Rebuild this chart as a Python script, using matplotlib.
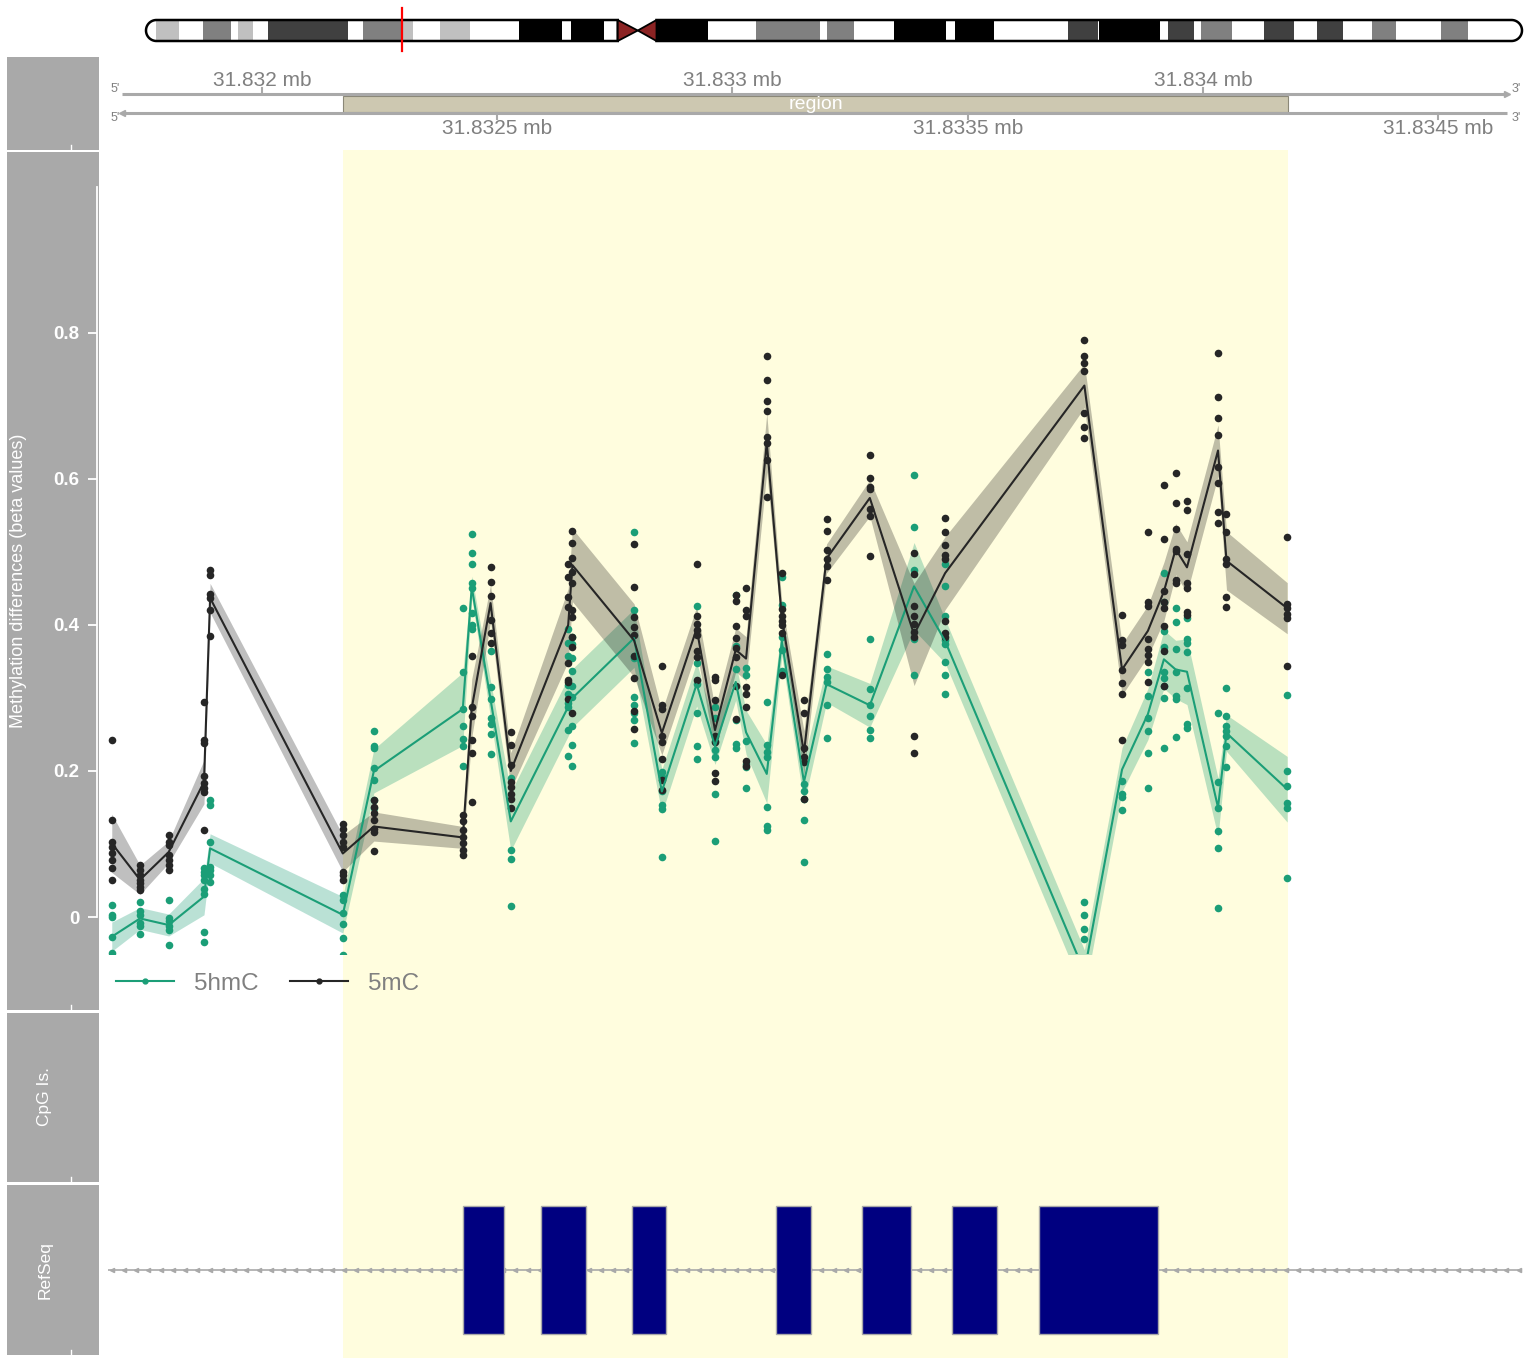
import numpy as np
import matplotlib
matplotlib.use('Agg')
import matplotlib.pyplot as plt
from matplotlib.patches import Rectangle, Polygon, PathPatch
from matplotlib.path import Path
from matplotlib.lines import Line2D

plt.rcParams['font.family'] = ['Liberation Sans', 'DejaVu Sans']

# ---- chr6 ideogram (Mb) ----
chrom_len = 171.1
locus_mb = 31.8332
band_start = [0, 1.19, 4.14, 7.03, 10.52, 11.47, 13.31, 15.17, 25.07, 27.01,
              31.71, 33.23, 36.56, 40.34, 46.33, 51.72, 52.82, 56.99, 58.66,
              61.15, 63.48, 69.87, 75.85, 83.75, 84.74, 88.00, 93.01, 99.44, 100.56,
              105.42, 114.64, 118.32, 118.50, 126.09, 127.09, 130.27, 131.17, 135.07, 138.98,
              142.72, 145.62, 148.85, 152.49, 155.44, 161.03, 164.39]
band_end = band_start[1:] + [chrom_len]
band_stain = ['gneg', 'gpos25', 'gneg', 'gpos50', 'gneg', 'gpos25', 'gneg', 'gpos75', 'gneg', 'gpos50',
              'gpos25', 'gneg', 'gpos25', 'gneg', 'gpos100', 'gneg', 'gpos100', 'gneg', 'acen',
              'acen', 'gpos100', 'gneg', 'gpos50', 'gneg', 'gpos50', 'gneg', 'gpos100', 'gneg', 'gpos100',
              'gneg', 'gpos75', 'gneg', 'gpos100', 'gneg', 'gpos75', 'gneg', 'gpos50', 'gneg', 'gpos75',
              'gneg', 'gpos75', 'gneg', 'gpos50', 'gneg', 'gpos50', 'gneg']
stain_col = {'gneg': 'white', 'gpos25': '#C0C0C0', 'gpos50': '#808080',
             'gpos75': '#404040', 'gpos100': 'black', 'acen': '#8B2323'}

# ---- plotted window / highlighted region (bp) ----
view = (31831673, 31834678)
region = (31832172, 31834181)
major_ticks = [31832000, 31833000, 31834000]
minor_ticks = [31832500, 31833500, 31834500]

# ---- CpG sites ----
cpg_pos = [31831681, 31831741, 31831802, 31831877, 31831890, 31832172, 31832238,
           31832427, 31832446, 31832486, 31832529, 31832651, 31832660, 31832791,
           31832850, 31832924, 31832963, 31833007, 31833029, 31833073, 31833105,
           31833152, 31833200, 31833292, 31833386, 31833452, 31833748, 31833828,
           31833883, 31833917, 31833942, 31833966, 31834032, 31834050, 31834179]

mc_mean = [0.101, 0.051, 0.089, 0.185, 0.437, 0.087, 0.124, 0.109, 0.286, 0.430,
           0.200, 0.400, 0.482, 0.379, 0.252, 0.395, 0.256, 0.366, 0.354, 0.650,
           0.410, 0.225, 0.491, 0.574, 0.387, 0.471, 0.728, 0.339, 0.392, 0.446,
           0.504, 0.479, 0.639, 0.488, 0.423]
mc_ci = [0.04, 0.02, 0.015, 0.03, 0.02, 0.025, 0.02, 0.015, 0.04, 0.025,
         0.025, 0.05, 0.05, 0.05, 0.03, 0.03, 0.03, 0.03, 0.03, 0.04,
         0.02, 0.03, 0.02, 0.025, 0.07, 0.05, 0.03, 0.035, 0.035, 0.04,
         0.035, 0.035, 0.035, 0.04, 0.035]

hmc_mean = [-0.027, -0.002, -0.011, 0.028, 0.094, 0.003, 0.200, 0.285, 0.452, 0.298,
            0.131, 0.288, 0.300, 0.382, 0.172, 0.319, 0.234, 0.322, 0.253, 0.196,
            0.378, 0.185, 0.319, 0.290, 0.453, 0.378, -0.075, 0.202, 0.278, 0.353,
            0.339, 0.336, 0.150, 0.252, 0.175]
hmc_ci = [0.02, 0.015, 0.015, 0.025, 0.02, 0.025, 0.03, 0.05, 0.015, 0.025,
          0.04, 0.04, 0.04, 0.04, 0.03, 0.03, 0.025, 0.025, 0.03, 0.04,
          0.02, 0.03, 0.025, 0.03, 0.06, 0.03, 0.03, 0.03, 0.035, 0.04,
          0.04, 0.045, 0.04, 0.025, 0.045]

mc_points = [
    [0.242, 0.133, 0.103, 0.096, 0.088, 0.078, 0.067, 0.051],
    [0.071, 0.064, 0.058, 0.051, 0.047, 0.041, 0.037],
    [0.112, 0.103, 0.099, 0.085, 0.078, 0.071, 0.064],
    [0.294, 0.243, 0.239, 0.193, 0.184, 0.177, 0.171, 0.119],
    [0.476, 0.469, 0.442, 0.437, 0.421, 0.385],
    [0.128, 0.121, 0.112, 0.103, 0.096, 0.062, 0.058, 0.051],
    [0.160, 0.151, 0.142, 0.133, 0.121, 0.117, 0.090],
    [0.140, 0.131, 0.119, 0.110, 0.101, 0.092, 0.085],
    [0.358, 0.287, 0.275, 0.243, 0.225, 0.157],
    [0.479, 0.459, 0.440, 0.407, 0.389, 0.375],
    [0.254, 0.236, 0.208, 0.185, 0.178, 0.169, 0.162, 0.149],
    [0.484, 0.466, 0.439, 0.425, 0.348, 0.325, 0.322, 0.298],
    [0.529, 0.512, 0.492, 0.473, 0.457, 0.420, 0.411, 0.384, 0.370, 0.279],
    [0.511, 0.452, 0.411, 0.397, 0.386, 0.358, 0.327, 0.282, 0.258],
    [0.344, 0.291, 0.285, 0.248, 0.240, 0.217, 0.187, 0.174],
    [0.484, 0.413, 0.401, 0.393, 0.386, 0.364, 0.356, 0.325],
    [0.329, 0.324, 0.297, 0.248, 0.240, 0.197, 0.186],
    [0.441, 0.433, 0.399, 0.382, 0.369, 0.356, 0.317, 0.271],
    [0.451, 0.421, 0.412, 0.315, 0.305, 0.288, 0.214, 0.207],
    [0.769, 0.736, 0.707, 0.693, 0.657, 0.649, 0.626, 0.576],
    [0.471, 0.422, 0.412, 0.406, 0.400, 0.389, 0.332],
    [0.297, 0.279, 0.231, 0.219, 0.212, 0.162],
    [0.545, 0.529, 0.503, 0.491, 0.481, 0.462],
    [0.633, 0.601, 0.589, 0.586, 0.559, 0.549, 0.495],
    [0.499, 0.470, 0.426, 0.412, 0.401, 0.390, 0.384, 0.248, 0.224],
    [0.546, 0.527, 0.509, 0.496, 0.490, 0.405, 0.389, 0.384],
    [0.790, 0.768, 0.759, 0.748, 0.690, 0.671, 0.656],
    [0.414, 0.380, 0.373, 0.339, 0.320, 0.306, 0.242],
    [0.528, 0.432, 0.426, 0.381, 0.367, 0.359, 0.350, 0.322],
    [0.592, 0.518, 0.447, 0.432, 0.423, 0.399, 0.364, 0.317],
    [0.608, 0.567, 0.532, 0.504, 0.501, 0.462, 0.458],
    [0.570, 0.558, 0.497, 0.457, 0.450, 0.418, 0.414],
    [0.772, 0.712, 0.683, 0.660, 0.616, 0.595, 0.555, 0.540],
    [0.552, 0.528, 0.490, 0.484, 0.438, 0.425],
    [0.521, 0.429, 0.423, 0.415, 0.410, 0.344],
]

hmc_points = [
    [0.016, 0.003, 0.000, -0.027, -0.049],
    [0.020, 0.008, 0.003, -0.008, -0.012, -0.023],
    [0.023, -0.002, -0.006, -0.013, -0.018, -0.039],
    [0.067, 0.062, 0.058, 0.051, 0.039, 0.032, -0.020, -0.034],
    [0.160, 0.153, 0.103, 0.069, 0.064, 0.058, 0.048],
    [0.030, 0.023, 0.005, -0.009, -0.029, -0.052],
    [0.255, 0.234, 0.232, 0.204, 0.188, 0.160, 0.149],
    [0.423, 0.336, 0.285, 0.261, 0.244, 0.234, 0.207],
    [0.524, 0.498, 0.484, 0.457, 0.451, 0.416, 0.400, 0.395],
    [0.365, 0.315, 0.299, 0.273, 0.264, 0.251, 0.223],
    [0.190, 0.092, 0.080, 0.015],
    [0.395, 0.375, 0.357, 0.318, 0.306, 0.293, 0.288, 0.256, 0.220],
    [0.384, 0.374, 0.355, 0.337, 0.316, 0.302, 0.261, 0.236, 0.207],
    [0.527, 0.420, 0.357, 0.355, 0.302, 0.291, 0.280, 0.270, 0.239],
    [0.199, 0.192, 0.172, 0.153, 0.148, 0.082],
    [0.426, 0.348, 0.319, 0.279, 0.234, 0.217],
    [0.288, 0.273, 0.241, 0.229, 0.219, 0.168, 0.104],
    [0.441, 0.371, 0.340, 0.270, 0.237, 0.231],
    [0.341, 0.332, 0.241, 0.209, 0.206, 0.177],
    [0.294, 0.236, 0.226, 0.219, 0.151, 0.124, 0.119],
    [0.466, 0.427, 0.383, 0.366, 0.337],
    [0.182, 0.173, 0.162, 0.133, 0.076],
    [0.360, 0.340, 0.329, 0.322, 0.291, 0.245],
    [0.381, 0.312, 0.290, 0.275, 0.256, 0.245],
    [0.606, 0.534, 0.475, 0.381, 0.331],
    [0.483, 0.454, 0.412, 0.380, 0.374, 0.349, 0.331, 0.306],
    [0.020, 0.003, -0.016, -0.030],
    [0.186, 0.168, 0.164, 0.146],
    [0.335, 0.303, 0.272, 0.255, 0.224, 0.177],
    [0.471, 0.432, 0.392, 0.370, 0.336, 0.328, 0.316, 0.300, 0.231],
    [0.423, 0.404, 0.367, 0.336, 0.303, 0.298, 0.246],
    [0.410, 0.381, 0.376, 0.363, 0.314, 0.264, 0.259],
    [0.279, 0.185, 0.150, 0.118, 0.094, 0.013],
    [0.314, 0.276, 0.262, 0.255, 0.248, 0.234, 0.205],
    [0.304, 0.200, 0.180, 0.156, 0.149, 0.053],
]

# ---- RefSeq exons (bp) ----
exon_start = [31832427, 31832593, 31832786, 31833092, 31833275, 31833467, 31833651]
exon_end = [31832514, 31832689, 31832859, 31833167, 31833379, 31833562, 31833904]

GREEN = '#1B9E77'
DARK = '#262626'
GREY = '#A9A9A9'
TXT = '#808080'

W, H = 1524, 1362
X0, X1 = 108, 1522


def frac(x0, y0, x1, y1):
    return [x0 / W, 1 - y1 / H, (x1 - x0) / W, (y1 - y0) / H]


def to_bp(px):
    return view[0] + (px - X0) / (X1 - X0) * (view[1] - view[0])


fig = plt.figure(figsize=(W / 100, H / 100), dpi=100)

# title panels on the left
frame = fig.add_axes([0, 0, 1, 1], zorder=0)
frame.set_xlim(0, W)
frame.set_ylim(H, 0)
frame.axis('off')
for y0, y1 in [(57, 150), (152, 1010), (1013, 1182), (1185, 1355)]:
    frame.add_patch(Rectangle((7, y0), 92, y1 - y0, facecolor=GREY, lw=0))
    frame.plot([71, 71], [y1 - 5, y1], color='white', lw=1)
frame.text(19, 581, 'Methylation differences (beta values)', rotation=90,
           color='white', fontsize=13, ha='center', va='center')
frame.text(45, 1097, 'CpG Is.', rotation=90, color='white', fontsize=12.5,
           ha='center', va='center')
frame.text(45, 1270, 'RefSeq', rotation=90, color='white', fontsize=12.5,
           ha='center', va='center')

# highlighted region behind the lower tracks
bg = fig.add_axes(frac(X0, 150, X1, 1358), zorder=1)
bg.set_xlim(view)
bg.set_ylim(0, 1)
bg.axis('off')
bg.axvspan(region[0], region[1], color='#FFFDDE', lw=0)

# ---- ideogram ----
ideo = fig.add_axes(frac(140, 5, 1524, 55), zorder=2)
mb_per_px = chrom_len / (1522 - 146)
ideo.set_xlim(-6 * mb_per_px, chrom_len + 2 * mb_per_px)
ideo.set_ylim(55, 5)
ideo.axis('off')
top, bot = 20, 41
cy, ry = (top + bot) / 2, (bot - top) / 2
rx = ry * mb_per_px
acen = [i for i, s in enumerate(band_stain) if s == 'acen']
cen_l, cen_m, cen_r = band_start[acen[0]], band_end[acen[0]], band_end[acen[1]]


def arm_path(xa, xb, round_left):
    t = np.linspace(np.pi / 2, 3 * np.pi / 2, 40)
    if round_left:
        verts = [(xb, top), (xa + rx, top)] + \
                [(xa + rx + rx * np.cos(a), cy - ry * np.sin(a)) for a in t] + \
                [(xa + rx, bot), (xb, bot), (xb, top)]
    else:
        verts = [(xa, top), (xb - rx, top)] + \
                [(xb - rx - rx * np.cos(a), cy - ry * np.sin(a)) for a in t] + \
                [(xb - rx, bot), (xa, bot), (xa, top)]
    return Path(verts, closed=True)


for path in [arm_path(0, cen_l, True), arm_path(cen_r, chrom_len, False)]:
    clip = PathPatch(path, facecolor='none', edgecolor='none')
    ideo.add_patch(clip)
    for s, e, st in zip(band_start, band_end, band_stain):
        if st == 'acen':
            continue
        r = Rectangle((s, top), e - s, bot - top, facecolor=stain_col[st], lw=0)
        ideo.add_patch(r)
        r.set_clip_path(clip)
    ideo.add_patch(PathPatch(path, facecolor='none', edgecolor='black', lw=1.8))
ideo.add_patch(Polygon([(cen_l, top), (cen_m, cy), (cen_l, bot)], closed=True,
                       facecolor=stain_col['acen'], edgecolor='black', lw=1.3))
ideo.add_patch(Polygon([(cen_r, top), (cen_m, cy), (cen_r, bot)], closed=True,
                       facecolor=stain_col['acen'], edgecolor='black', lw=1.3))
ideo.plot([locus_mb, locus_mb], [8, 51], color='red', lw=1.6)

# ---- genome axis ----
gax = fig.add_axes(frac(X0, 57, X1, 150), zorder=2)
gax.set_xlim(view)
gax.set_ylim(150, 57)
gax.axis('off')
xa, xb = to_bp(122), to_bp(1507)
gax.add_patch(Rectangle((region[0], 95.5), region[1] - region[0], 16.5,
                        facecolor='#CDC8B1', edgecolor='#8B8878', lw=0.8))
gax.text((region[0] + region[1]) / 2, 104.5, 'region', color='white',
         fontsize=14, ha='center', va='center')
gax.plot([xa, xb], [94, 94], color=GREY, lw=2.2, solid_capstyle='butt')
gax.plot([xa, xb], [113, 113], color=GREY, lw=2.2, solid_capstyle='butt')
gax.plot([xb], [94], marker='>', ms=4, color=GREY, mec=GREY)
gax.plot([xa], [113], marker='<', ms=4, color=GREY, mec=GREY)
for t in major_ticks:
    gax.plot([t, t], [88, 94], color=GREY, lw=1.5)
    gax.text(t, 81, ('%.4f' % (t / 1e6)).rstrip('0') + ' mb', color=TXT,
             fontsize=15, ha='center', va='center')
for t in minor_ticks:
    gax.plot([t, t], [113, 119], color=GREY, lw=1.5)
    gax.text(t, 128.5, ('%.4f' % (t / 1e6)).rstrip('0') + ' mb', color=TXT,
             fontsize=15, ha='center', va='center')
for y in (89, 118):
    gax.text(to_bp(115), y, "5'", color=TXT, fontsize=9, ha='center', va='center')
    gax.text(to_bp(1516), y, "3'", color=TXT, fontsize=9, ha='center', va='center')

# ---- methylation data track ----
ax = fig.add_axes(frac(X0, 150.5, X1, 953.5), zorder=3)
ax.patch.set_alpha(0)
ax.set_xlim(view)
ax.set_ylim(-0.05, 1.05)
for s in ['top', 'right', 'bottom']:
    ax.spines[s].set_visible(False)
ax.spines['left'].set_position(('outward', 8))
ax.spines['left'].set_bounds(0, 1)
ax.spines['left'].set_color('white')
ax.spines['left'].set_linewidth(1.3)
ax.set_xticks([])
ax.set_yticks([0, 0.2, 0.4, 0.6, 0.8])
ax.set_yticklabels(['0', '0.2', '0.4', '0.6', '0.8'], fontweight='bold', fontsize=13.5)
ax.tick_params(axis='y', colors='white', length=6.5, width=1.3, pad=6)

pos = np.array(cpg_pos)
hm, hc = np.array(hmc_mean), np.array(hmc_ci)
mm, mc = np.array(mc_mean), np.array(mc_ci)
ax.fill_between(pos, hm - hc, hm + hc, color=GREEN, alpha=0.3, lw=0)
ax.fill_between(pos, mm - mc, mm + mc, color='black', alpha=0.25, lw=0)
for p, vals in zip(cpg_pos, hmc_points):
    ax.scatter([p] * len(vals), vals, s=30, color=GREEN, lw=0, zorder=3)
for p, vals in zip(cpg_pos, mc_points):
    ax.scatter([p] * len(vals), vals, s=30, color=DARK, lw=0, zorder=3)
ax.plot(pos, hm, color=GREEN, lw=1.5, zorder=4)
ax.plot(pos, mm, color=DARK, lw=1.5, zorder=4)

handles = [Line2D([], [], color=GREEN, lw=1.5, marker='o', ms=3.5),
           Line2D([], [], color=DARK, lw=1.5, marker='o', ms=3.5)]
fig.legend(handles, ['5hmC', '5mC'], loc='center left',
           bbox_to_anchor=(116 / W, 1 - 984 / H), ncol=2, frameon=False,
           fontsize=17.5, labelcolor=TXT, handlelength=2.4, handletextpad=0.8,
           columnspacing=1.3, borderaxespad=0, borderpad=0)

# ---- CpG island track (empty in this window) ----
cax = fig.add_axes(frac(X0, 1013, X1, 1182), zorder=2)
cax.set_xlim(view)
cax.axis('off')

# ---- RefSeq gene model ----
rax = fig.add_axes(frac(X0, 1185, X1, 1355), zorder=2)
rax.set_xlim(view)
rax.set_ylim(0, 1)
rax.axis('off')
rax.plot(view, [0.5, 0.5], color=GREY, lw=1.2)
chev = np.arange(view[0] + 8, view[1], 26)
rax.plot(chev, np.full(len(chev), 0.5), ls='none', marker='<', ms=3,
         color=GREY, mec=GREY)
for s, e in zip(exon_start, exon_end):
    rax.add_patch(Rectangle((s, 0.124), e - s, 0.752, facecolor='#000080',
                            edgecolor=GREY, lw=1, zorder=3))

fig.savefig('out.png', dpi=100)
